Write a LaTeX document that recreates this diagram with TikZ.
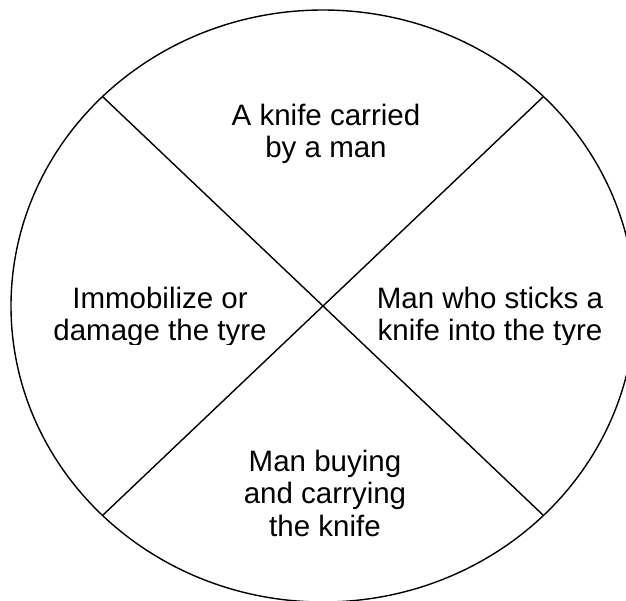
\documentclass[tikz,border=0pt]{standalone}
\usepackage{fontspec}
\setmainfont{Liberation Sans}
\begin{document}
\begin{tikzpicture}[x=1pt,y=-1pt,
  outline/.style={draw=black,line width=1.4pt},
  label/.style={align=center,inner sep=0pt,font=\fontsize{29.5}{32.5}\selectfont}]
\useasboundingbox (0,0) rectangle (626,600);
\clip (0,0) rectangle (626,600);
\draw[outline] (323,306) ellipse [x radius=312, y radius=296];
\coordinate (ul) at (103,97);
\coordinate (ur) at (543,97);
\coordinate (ll) at (103,515);
\coordinate (lr) at (543,515);
\draw[outline] (ul) -- (lr);
\draw[outline] (ur) -- (ll);
\node[label] (top) at (326,134) {A knife carried\\by a man};
\node[label] (bottom) at (325,493) {Man buying\\and carrying\\the knife};
\begin{scope}
\clip (0,0) rectangle (626,344);
\node[label] (left) at (160,317) {Immobilize or\\damage the tyre};
\node[label] (right) at (490,317) {Man who sticks a\\knife into the tyre};
\end{scope}
\end{tikzpicture}
\end{document}
